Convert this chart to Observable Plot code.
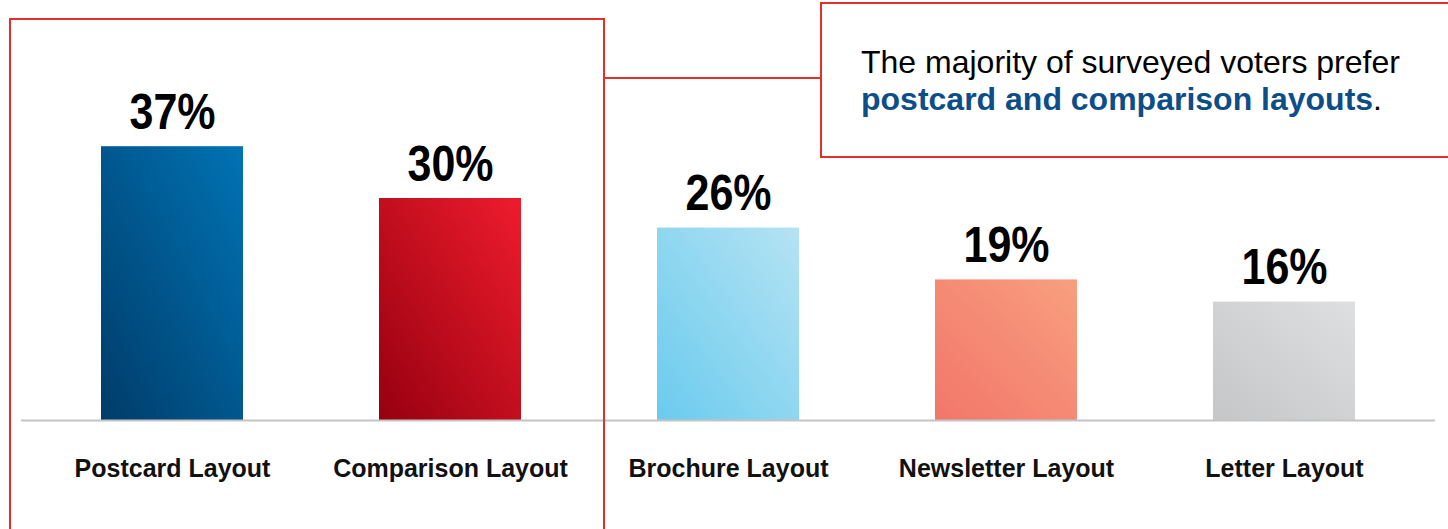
<!DOCTYPE html>
<html><head><meta charset="utf-8">
<script src="https://cdn.jsdelivr.net/npm/d3@7"></script>
<script src="https://cdn.jsdelivr.net/npm/@observablehq/plot@0.6"></script>
<style>body{margin:0;background:#fff;}</style>
</head><body><div id="chart"></div>
<script>
const categories = ["Postcard Layout", "Comparison Layout", "Brochure Layout", "Newsletter Layout", "Letter Layout"];
const values = [37, 30, 26, 19, 16];
const valueLabels = ["37%", "30%", "26%", "19%", "16%"];
const gradientStops = [
  ["#003c69", "#0073b4"],
  ["#960010", "#ee1c2d"],
  ["#6acbee", "#b5e3f3"],
  ["#f2766a", "#f89f7f"],
  ["#c5c6c8", "#dedfe0"]
];
const annotationLine1 = "The majority of surveyed voters prefer";
const annotationBold = "postcard and comparison layouts";
const annotationEnd = ".";

const data = categories.map((c, i) => ({category: c, value: values[i], label: valueLabels[i], grad: `url(#grad${i})`}));

const defs = () => {
  const d = d3.create("svg:defs");
  gradientStops.forEach(([a, b], i) => {
    const g = d.append("linearGradient").attr("id", `grad${i}`)
      .attr("x1", 0).attr("y1", 1).attr("x2", 1).attr("y2", 0);
    g.append("stop").attr("offset", "0%").attr("stop-color", a);
    g.append("stop").attr("offset", "100%").attr("stop-color", b);
  });
  return d.node();
};

const annotation = () => {
  const g = d3.create("svg:g").attr("text-anchor", "start");
  const red = "#e0312b";
  g.append("path").attr("fill", "none").attr("stroke", red).attr("stroke-width", 2)
    .attr("d", "M10,540 V19 H604 V540");
  g.append("path").attr("fill", "none").attr("stroke", red).attr("stroke-width", 2)
    .attr("d", "M604,78 H821");
  g.append("path").attr("fill", "#fff").attr("stroke", red).attr("stroke-width", 2)
    .attr("d", "M1460,3 H821 V157 H1460");
  const t = g.append("text").attr("font-family", "Liberation Sans, Arial, sans-serif").attr("font-size", 32)
    .attr("fill", "#000").attr("text-anchor", "start").attr("x", 861).attr("y", 73);
  t.text(annotationLine1);
  const t2 = g.append("text").attr("font-family", "Liberation Sans, Arial, sans-serif").attr("font-size", 32)
    .attr("text-anchor", "start").attr("x", 861).attr("y", 110);
  t2.append("tspan").attr("font-weight", "bold").attr("fill", "#0d4e89").text(annotationBold);
  t2.append("tspan").attr("fill", "#000").text(annotationEnd);
  return g.node();
};

const chart = Plot.plot({
  width: 1448,
  height: 529,
  marginLeft: 33,
  marginRight: 25,
  marginTop: 50,
  marginBottom: 109,
  style: {fontFamily: "Liberation Sans, Arial, sans-serif", background: "#fff"},
  x: {domain: categories, paddingInner: 0.49, paddingOuter: 0.245, label: null},
  y: {domain: [0, 50], axis: null},
  color: {type: "identity"},
  marks: [
    defs,
    Plot.barY(data, {x: "category", y: "value", fill: "grad"}),
    Plot.ruleY([0], {stroke: "#c4c4c4", strokeWidth: 2, insetLeft: -12, insetRight: -12}),
    Plot.text(data, {x: "category", y: "value", text: "label", lineAnchor: "bottom", dy: -18,
      fontSize: 50, fontWeight: "bold", fontFamily: "Liberation Sans, Arial, sans-serif", fill: "#000",
      className: "vlabels"}),
    Plot.axisX({tickSize: 0, tickPadding: 39, fontSize: 25, fontWeight: "bold", fill: "#111", label: null}),
    annotation
  ]
});
// narrow the value labels horizontally to match the condensed typeface
d3.select(chart).selectAll("g.vlabels text").each(function () {
  const el = d3.select(this);
  const x = +el.attr("x") || 0;
  const y = +el.attr("y") || 0;
  const tr = el.attr("transform") || "";
  if (tr) {
    el.attr("transform", tr + " scale(0.86,1)");
  } else {
    el.attr("transform", `translate(${x},${y}) scale(0.86,1) translate(${-x},${-y})`);
  }
});
document.getElementById("chart").appendChild(chart);
</script>
</body></html>
